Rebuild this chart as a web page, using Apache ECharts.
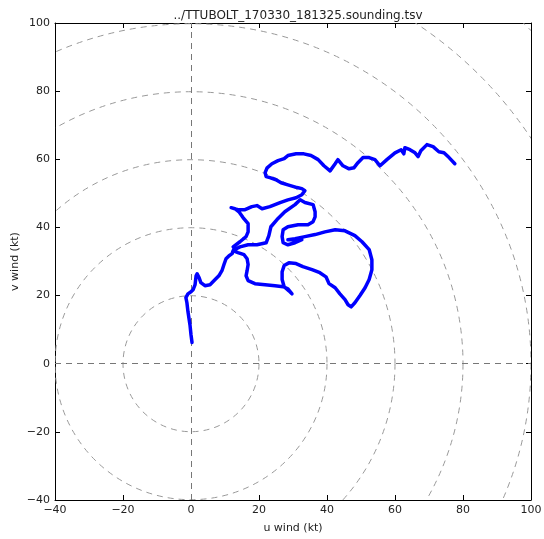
<!DOCTYPE html>
<html><head><meta charset="utf-8">
<script src="https://cdn.jsdelivr.net/npm/echarts@6/dist/echarts.min.js"></script>
<style>html,body{margin:0;padding:0;background:#fff}#c{width:544px;height:539px}</style>
</head><body><div id="c"></div>
<script>
const titleText = '../TTUBOLT_170330_181325.sounding.tsv';
const xName = 'u wind (kt)';
const yName = 'v wind (kt)';
const ringRadii = [20, 40, 60, 80, 100, 120, 140];
const uWind = [0.3,0,-0.3,-0.9,-1.2,-1.5,-0.9,0,0.6,1.2,1.5,1.8,2.4,2.9,4.1,5.6,7.1,8.2,9.1,9.7,10.3,11.2,12.1,
 12.4,13.8,15.6,16.5,16.8,16.5,16.2,16.8,18.8,21.8,24.7,27.1,28.5,29.7,
 28.8,27.4,26.8,26.8,27.4,28.8,30.9,32.9,35.6,37.9,39.7,40.6,42.4,43.8,45.3,46.2,47.1,48.2,49.7,51.2,52.4,53.2,53.2,52.4,50.3,48.2,45.3,42.4,39.4,36.5,33.5,30.6,28.5,
 32.6,30.6,28.5,27.1,26.8,27.1,28.5,31.5,34.4,35.9,36.5,36.5,35.9,33.5,
 32.1,30.6,27.6,25.3,23.5,22.9,22.1,19.4,16.8,14.4,12.9,
 12.4,14.4,16.2,16.8,16.8,15.3,14.1,12.9,11.8,
 13.8,15.9,17.9,19.4,20.9,23.2,26.2,28.5,30.9,32.6,33.5,
 32.6,31.2,28.5,26.5,25.0,23.2,22.1,21.8,22.4,23.8,25.6,27.4,28.5,30.9,33.2,35.3,37.4,39.1,40.9,42.4,43.2,44.7,46.5,47.9,49.1,50.6,52.4,54.1,55.6,57.6,60.0,61.8,62.6,62.9,64.4,65.9,66.8,67.6,69.4,71.2,72.9,74.4,75.9,77.6];
const vWind = [6.2,8.5,11.4,15.3,17.9,19.4,20.5,21.1,21.7,23.2,25.8,26.4,25.2,23.8,22.9,23.2,24.7,25.8,27.3,29.1,30.8,31.7,32.3,
 33.2,32.6,32.0,30.8,29.1,27.3,25.8,24.4,23.5,23.2,22.9,22.6,22.0,20.5,
 21.4,22.6,24.7,27.0,28.8,29.6,29.4,28.5,27.6,26.7,25.5,23.5,22.3,20.5,18.8,17.3,16.7,17.9,20.0,22.3,24.7,27.6,30.5,33.5,35.8,37.6,39.0,39.3,38.7,37.9,37.3,36.7,36.4,
 36.4,35.5,34.9,35.5,37.3,39.3,40.2,40.8,40.8,41.7,43.1,44.6,46.7,47.3,
 48.1,46.7,44.6,42.3,40.2,37.6,35.5,34.9,34.9,34.3,33.5,
 34.3,35.8,37.3,38.7,41.1,42.9,44.6,45.5,45.8,
 45.2,45.2,46.1,46.4,45.5,46.1,47.3,48.1,48.7,49.6,50.8,
 51.4,51.7,52.5,53.1,54.0,54.6,54.9,56.1,57.5,58.7,59.6,60.2,61.1,61.6,61.6,61.1,59.9,58.1,56.6,58.7,59.9,58.1,57.2,57.5,59.0,60.5,60.5,59.9,58.1,59.9,61.9,62.8,61.6,63.4,62.8,61.9,60.8,62.5,64.3,63.7,62.2,61.9,60.5,58.7];

const pts = uWind.map((u, i) => [u, vWind[i]]);
const minus = v => String(v).replace('-', '\u2212');
const font = 'DejaVu Sans';
const txt = '#222';

const chart = echarts.init(document.getElementById('c'), null, {renderer: 'canvas'});
const axBase = {
  type: 'value', min: -40, max: 100, interval: 20,
  splitLine: {show: false},
  axisLine: {show: true, onZero: false, lineStyle: {color: '#000', width: 1}},
  axisTick: {show: true, inside: true, length: 5, lineStyle: {color: '#000'}},
};
chart.setOption({
  animation: false,
  title: {text: titleText, left: 293, top: 5, textAlign: 'center',
    textStyle: {fontFamily: font, fontSize: 12, fontWeight: 'normal', color: txt}},
  grid: {left: 55, right: 13, top: 23, bottom: 39, containLabel: false, outerBoundsMode: 'none'},
  xAxis: [
    Object.assign({}, axBase, {position: 'bottom', name: xName, nameLocation: 'middle', nameGap: 23,
      nameMoveOverlap: false,
      nameTextStyle: {fontFamily: font, fontSize: 11, color: txt},
      axisLabel: {fontFamily: font, fontSize: 11, color: txt, margin: 5, formatter: minus}}),
    Object.assign({}, axBase, {position: 'top', axisLabel: {show: false}})
  ],
  yAxis: [
    Object.assign({}, axBase, {position: 'left', name: yName, nameLocation: 'middle', nameGap: 34,
      nameMoveOverlap: false,
      nameTextStyle: {fontFamily: font, fontSize: 11, color: txt},
      axisLabel: {fontFamily: font, fontSize: 11, color: txt, margin: 5, formatter: minus}}),
    Object.assign({}, axBase, {position: 'right', axisLabel: {show: false}})
  ],
  series: [
    {
      type: 'custom', xAxisIndex: 0, yAxisIndex: 0, clip: true, silent: true, z: 1,
      data: ringRadii.map(r => [r]),
      renderItem: function (params, api) {
        const r = api.value(0);
        const c = api.coord([0, 0]);
        const rx = api.size([r, 0])[0];
        return {
          type: 'circle',
          shape: {cx: c[0], cy: c[1], r: rx},
          style: {fill: 'none', stroke: '#999', lineWidth: 1, lineDash: [6, 5]},
          clipPath: {type: 'rect', shape: {x: params.coordSys.x, y: params.coordSys.y, width: params.coordSys.width, height: params.coordSys.height}}
        };
      }
    },
    {
      type: 'line', xAxisIndex: 0, yAxisIndex: 0, z: 3,
      data: pts, showSymbol: false, symbol: 'none',
      lineStyle: {color: '#0000ff', width: 3.5, join: 'round', cap: 'round'},
      markLine: {
        silent: true, symbol: 'none', label: {show: false}, z: 2,
        lineStyle: {color: '#777', width: 1, type: [6, 5]},
        data: [{xAxis: 0}, {yAxis: 0}]
      }
    }
  ]
});
</script></body></html>
